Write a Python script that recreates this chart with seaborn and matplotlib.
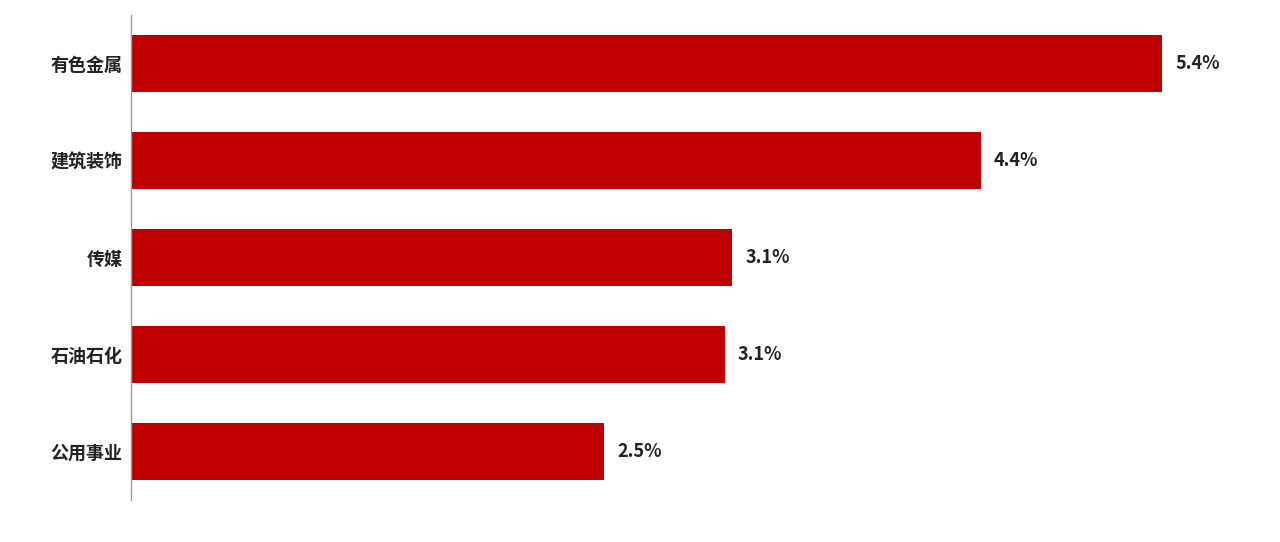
import matplotlib
matplotlib.use("Agg")
import matplotlib.pyplot as plt
import seaborn as sns
import pandas as pd

categories = ["有色金属", "建筑装饰", "传媒", "石油石化", "公用事业"]
values = [5.4, 4.45, 3.15, 3.11, 2.48]
labels = ["5.4%", "4.4%", "3.1%", "3.1%", "2.5%"]

sns.set_theme(style="white")
plt.rcParams['font.family'] = ['Noto Sans CJK SC', 'DejaVu Sans']

df = pd.DataFrame({"cat": categories, "val": values})
fig = plt.figure(figsize=(12.8, 5.42), dpi=100)
ax = fig.add_axes([131/1280, 1-500/542, 1-131/1280, 485/542])
sns.barplot(data=df, y="cat", x="val", orient="h", color="#C00000",
            saturation=1, width=0.59, ax=ax, edgecolor="none")
ax.set_xlim(0, 1149/190.9)
ax.set_ylim(4.5, -0.5)
for p, lab in zip(ax.patches, labels):
    ax.text(p.get_width() + 0.07, p.get_y() + p.get_height()/2, lab,
            va="center", ha="left", fontsize=13, fontweight="bold", color="#222222")
ax.set_xlabel(""); ax.set_ylabel("")
ax.set_xticks([])
ax.tick_params(axis="y", length=0, pad=6, labelsize=13)
for t in ax.get_yticklabels():
    t.set_fontweight("bold"); t.set_color("#222222")
for s in ["top", "right", "bottom"]:
    ax.spines[s].set_visible(False)
ax.spines["left"].set_color("#999999")
ax.spines["left"].set_linewidth(1)
fig.savefig("out.png", dpi=100, facecolor="white")
